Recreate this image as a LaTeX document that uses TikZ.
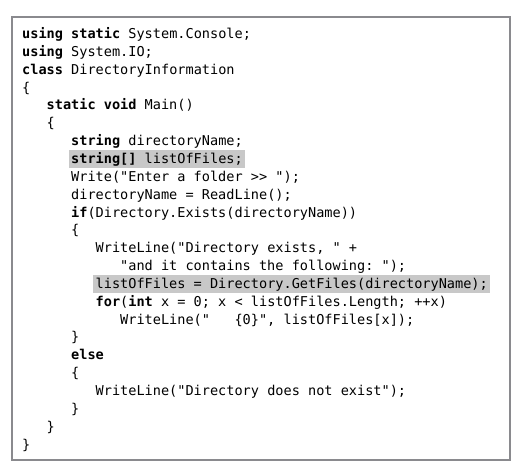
\documentclass[tikz,border=0pt]{standalone}
\usepackage{fontspec}
\setmonofont{DejaVu Sans Mono}
\usepackage{tikz}
\usetikzlibrary{calc}
\definecolor{framegray}{RGB}{138,138,142}
\definecolor{hlgray}{RGB}{200,200,200}
\tikzset{codeline/.style={anchor=base west,inner sep=0pt,
    font=\ttfamily\fontsize{13.57pt}{16pt}\selectfont\frenchspacing},
  hlline/.style={codeline,fill=hlgray,text height=13pt,text depth=5pt,
    inner xsep=2.5pt,xshift=-2.5pt},
  framebox/.style={draw=framegray,line width=2.5pt}}
\newcommand{\kw}[1]{\textbf{#1}}

\begin{document}
\begin{tikzpicture}[x=1pt,y=-1pt]
  \useasboundingbox (0,0) rectangle (518,463);
  \draw[framebox] (12,17) rectangle (510,460);
  % columns: 22, 46.5, 71, 95.5, 120 -- rows every 17.85
  \node[codeline] (l1) at (22,38.5) {\kw{using} \kw{static} System.Console;};
  \node[codeline] (l2) at (22,56.35) {\kw{using} System.IO;};
  \node[codeline] (l3) at (22,74.2) {\kw{class} DirectoryInformation};
  \node[codeline] (l4) at (22,92.05) {\{};
  \node[codeline] (l5) at (46.5,109.9) {\kw{static} \kw{void} Main()};
  \node[codeline] (l6) at (46.5,127.75) {\{};
  \node[codeline] (l7) at (71,145.6) {\kw{string} directoryName;};
  \node[hlline] (l8) at (71,163.45) {\kw{string[]} listOfFiles;};
  \node[codeline] (l9) at (71,181.3) {Write("Enter a folder >> ");};
  \node[codeline] (l10) at (71,199.15) {directoryName = ReadLine();};
  \node[codeline] (l11) at (71,217) {\kw{if}(Directory.Exists(directoryName))};
  \node[codeline] (l12) at (71,234.85) {\{};
  \node[codeline] (l13) at (95.5,252.7) {WriteLine("Directory exists, " +};
  \node[codeline] (l14) at (120,270.55) {"and it contains the following: ");};
  \node[hlline] (l15) at (95.5,288.4) {listOfFiles = Directory.GetFiles(directoryName);};
  \node[codeline] (l16) at (95.5,306.25) {\kw{for}(\kw{int} x = 0; x < listOfFiles.Length; ++x)};
  \node[codeline] (l17) at (120,324.1) {WriteLine("\ \ \ \{0\}", listOfFiles[x]);};
  \node[codeline] (l18) at (71,341.95) {\}};
  \node[codeline] (l19) at (71,359.8) {\kw{else}};
  \node[codeline] (l20) at (71,377.65) {\{};
  \node[codeline] (l21) at (95.5,395.5) {WriteLine("Directory does not exist");};
  \node[codeline] (l22) at (71,413.35) {\}};
  \node[codeline] (l23) at (46.5,431.2) {\}};
  \node[codeline] (l24) at (22,449.05) {\}};
\end{tikzpicture}
\end{document}
